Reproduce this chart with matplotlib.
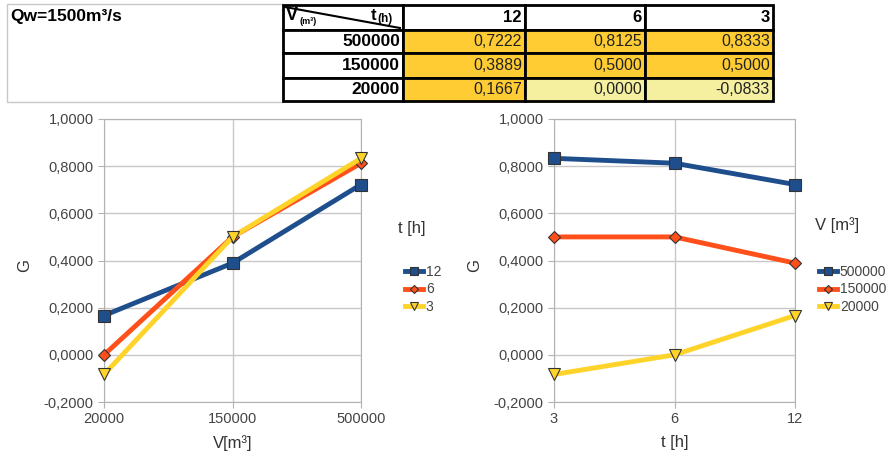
import matplotlib.pyplot as plt
from matplotlib.lines import Line2D
from matplotlib.patches import Rectangle

plt.rcParams['font.family'] = ['Liberation Sans', 'DejaVu Sans']

# Dados
volumes = ["500000", "150000", "20000"]
tempos = ["12", "6", "3"]
G_500000 = [0.7222, 0.8125, 0.8333]
G_150000 = [0.3889, 0.5000, 0.5000]
G_20000 = [0.1667, 0.0000, -0.0833]
tabela = [G_500000, G_150000, G_20000]

# series do grafico esquerdo (por t), eixo x = V (20000, 150000, 500000)
x_vol = ["20000", "150000", "500000"]
G_t12 = [0.1667, 0.3889, 0.7222]
G_t6 = [0.0000, 0.5000, 0.8125]
G_t3 = [-0.0833, 0.5000, 0.8333]

# series do grafico direito (por V), eixo x = t (3, 6, 12)
x_t = ["3", "6", "12"]
G_v500000 = [0.8333, 0.8125, 0.7222]
G_v150000 = [0.5000, 0.5000, 0.3889]
G_v20000 = [-0.0833, 0.0000, 0.1667]

AZUL = '#1f4e8c'
LARANJA = '#ff4f1a'
AMARELO = '#ffd42a'
estilos = [(AZUL, 's', 9), (LARANJA, 'D', 6), (AMARELO, 'v', 9)]

W, H = 886, 459
fig = plt.figure(figsize=(W / 100, H / 100), dpi=100)


def fx(px):
    return px / W


def fy(py):
    return 1 - py / H


def caixa(x0, y0, x1, y1, cor, lw=2, ec='black'):
    fig.patches.append(Rectangle((fx(x0), fy(y1)), fx(x1 - x0), (y1 - y0) / H,
                                 transform=fig.transFigure, facecolor=cor,
                                 edgecolor=ec, linewidth=lw))


# --- tabela no topo ---
caixa(7, 4, 283, 102, 'white', lw=1, ec='#c8c8c8')
fig.text(fx(10), fy(17), "Qw=1500m³/s", fontsize=12.5, fontweight='bold', va='center')

col_x = [283, 403, 525, 645, 773]
row_y = [5, 30, 53, 78, 101]

caixa(col_x[0], row_y[0], col_x[1], row_y[1], 'white')
fig.lines.append(Line2D([fx(285), fx(400)], [fy(7), fy(28)], transform=fig.transFigure,
                        color='black', lw=1.5))
fig.text(fx(286), fy(16), "V", fontsize=13, fontweight='bold', va='center')
fig.text(fx(299), fy(21), "(m³)", fontsize=6.5, fontweight='bold', va='center')
fig.text(fx(371), fy(16), "t", fontsize=12, fontweight='bold', va='center')
fig.text(fx(377), fy(19), "(h)", fontsize=8.5, fontweight='bold', va='center')

for j, t in enumerate(tempos):
    caixa(col_x[j + 1], row_y[0], col_x[j + 2], row_y[1], 'white')
    fig.text(fx(col_x[j + 2] - 3), fy((row_y[0] + row_y[1]) / 2), t,
             fontsize=12, fontweight='bold', ha='right', va='center')

for i, v in enumerate(volumes):
    ym = (row_y[i + 1] + row_y[i + 2]) / 2
    caixa(col_x[0], row_y[i + 1], col_x[1], row_y[i + 2], 'white')
    fig.text(fx(col_x[1] - 3), fy(ym), v, fontsize=12.5, fontweight='bold',
             ha='right', va='center')
    for j, val in enumerate(tabela[i]):
        cor = '#ffcc33' if val > 0.1 else '#f5f0a0'
        caixa(col_x[j + 1], row_y[i + 1], col_x[j + 2], row_y[i + 2], cor)
        txt = f"{val:.4f}".replace('.', ',')
        fig.text(fx(col_x[j + 2] - 3), fy(ym), txt, fontsize=11.5, color='#222222',
                 ha='right', va='center')


# --- graficos ---
def grafico(ax, xs, series, rotulos, xlabel, titulo_leg, leg_x, leg_y, tit_x, tit_y):
    pos = list(range(len(xs)))
    hs = []
    for ys, (cor, mk, ms) in zip(series, estilos):
        h, = ax.plot(pos, ys, color=cor, lw=3.5, marker=mk, markersize=ms,
                     markeredgecolor='#333333', markeredgewidth=0.8, clip_on=False, zorder=3)
        hs.append(h)
    ax.set_xlim(0, len(xs) - 1)
    ax.set_ylim(-0.2, 1.0)
    ax.set_yticks([-0.2, 0, 0.2, 0.4, 0.6, 0.8, 1.0])
    ax.set_yticklabels([f"{v:.4f}".replace('.', ',') for v in [-0.2, 0, 0.2, 0.4, 0.6, 0.8, 1.0]])
    ax.set_xticks(pos)
    ax.set_xticklabels(xs)
    ax.grid(True, color='#c8c8c8', lw=1)
    ax.set_axisbelow(True)
    for s in ax.spines.values():
        s.set_color('#b3b3b3')
    ax.tick_params(colors='#b3b3b3', labelcolor='#444444', labelsize=10.5, length=4)
    ax.set_xlabel(xlabel, fontsize=12, color='#333333', labelpad=6)
    fig.text(fx(tit_x), fy(tit_y), titulo_leg, fontsize=12, color='#333333', va='center')
    fig.legend(hs, rotulos, loc='upper left', bbox_to_anchor=(fx(leg_x), fy(leg_y)),
               frameon=False, fontsize=10, handlelength=1.3, handletextpad=0.2,
               labelspacing=0.25, borderpad=0, labelcolor='#444444', markerscale=0.7)


ax1 = fig.add_axes([fx(104), 1 - 402 / H, fx(361 - 104), (402 - 119) / H])
grafico(ax1, x_vol, [G_t12, G_t6, G_t3], ["12", "6", "3"], "V[m³]",
        "t [h]", 398, 258, 398, 228)
fig.text(fx(25), fy(266), "G", fontsize=12, color='#333333', rotation=90,
         ha='center', va='center')

ax2 = fig.add_axes([fx(554), 1 - 402 / H, fx(795 - 554), (402 - 119) / H])
grafico(ax2, x_t, [G_v500000, G_v150000, G_v20000], ["500000", "150000", "20000"], "t [h]",
        "V [m³]", 812, 258, 815, 225)
fig.text(fx(475), fy(266), "G", fontsize=12, color='#333333', rotation=90,
         ha='center', va='center')

fig.savefig('out.png', dpi=100)
